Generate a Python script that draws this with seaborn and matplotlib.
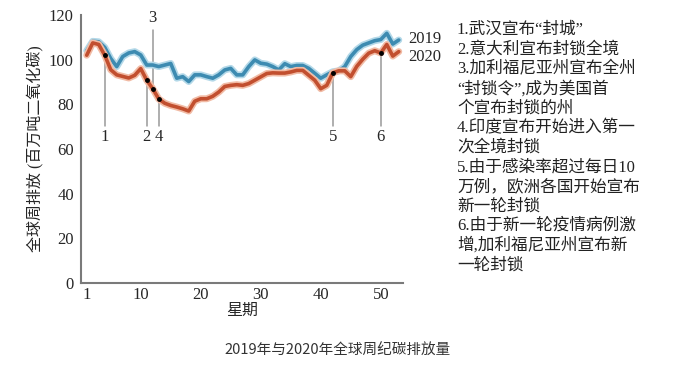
import pandas as pd
import seaborn as sns
import matplotlib.pyplot as plt
import matplotlib.patheffects as pe

weeks = list(range(1, 54))

# weekly emissions (million tonnes CO2)
co2_2019 = [104.0, 108.2, 108.0, 105.5, 100.5, 96.9, 101.4, 103.0, 103.6, 102.1,
            97.6, 97.6, 96.9, 97.6, 98.3, 91.7, 92.4, 90.2, 93.2, 93.2,
            92.4, 91.7, 93.2, 95.4, 96.1, 93.2, 93.2, 96.9, 99.9, 98.4,
            98.0, 96.9, 95.4, 98.2, 96.9, 97.4, 97.4, 96.1, 93.9, 91.7,
            93.2, 94.6, 95.0, 96.9, 101.4, 104.5, 106.5, 107.5, 108.5, 109.0,
            111.8, 107.0, 108.8]
co2_2020 = [102.0, 107.5, 106.8, 102.0, 95.5, 93.2, 92.5, 91.8, 93.0, 96.0,
            90.8, 87.0, 82.4, 80.5, 79.5, 78.8, 78.0, 77.0, 81.4, 82.5,
            82.5, 83.6, 85.5, 88.0, 88.5, 88.8, 88.5, 89.3, 90.8, 92.3,
            93.8, 94.1, 94.0, 94.0, 94.5, 95.2, 95.2, 93.0, 90.8, 87.0,
            88.5, 94.1, 95.0, 95.0, 92.4, 97.0, 100.2, 102.9, 104.0, 103.0,
            106.8, 101.6, 103.6]

event_labels = ["1", "2", "3", "4", "5", "6"]
event_weeks = [4, 11, 12, 13, 42, 50]

notes = ["1.武汉宣布“封城”",
         "2.意大利宣布封锁全境",
         "3.加利福尼亚州宣布全州",
         "“封锁令”,成为美国首",
         "个宣布封锁的州",
         "4.印度宣布开始进入第一",
         "次全境封锁",
         "5.由于感染率超过每日10",
         "万例，欧洲各国开始宣布",
         "新一轮封锁",
         "6.由于新一轮疫情病例激",
         "增,加利福尼亚州宣布新",
         "一轮封锁"]

df = pd.DataFrame({
    "week": weeks * 2,
    "co2": co2_2019 + co2_2020,
    "year": ["2019"] * len(weeks) + ["2020"] * len(weeks),
})

sns.set_style("white")
plt.rcParams["font.family"] = ["Liberation Serif", "Noto Sans CJK SC"]

fig = plt.figure(figsize=(6.75, 3.71), dpi=100)
ax = fig.add_axes([0.1196, 0.237, 0.4774, 0.7226])

colors = {"2019": "#3d8bb1", "2020": "#c24f2f"}
halos = {"2019": "#b3d8e8", "2020": "#f1bba5"}

sns.lineplot(data=df, x="week", y="co2", hue="year", palette=colors,
             linewidth=2.6, legend=False, ax=ax)
for line, yr in zip(ax.get_lines(), ["2019", "2020"]):
    line.set_path_effects([pe.Stroke(linewidth=5, foreground=halos[yr]), pe.Normal()])
    line.set_solid_joinstyle("round")

# event markers on the 2020 line
for lab, wk in zip(event_labels, event_weeks):
    yv = co2_2020[wk - 1]
    if lab == "3":
        ax.plot([wk, wk], [yv, 113.5], color="#999999", lw=1.1, zorder=1)
        ax.text(wk, 115, lab, ha="center", va="bottom", fontsize=12)
    else:
        ax.plot([wk, wk], [70.5, yv], color="#999999", lw=1.1, zorder=1)
        ax.text(wk, 69, lab, ha="center", va="top", fontsize=12)
    ax.plot(wk, yv, "o", color="black", ms=2.5, zorder=5)

ax.text(54.5, co2_2019[-1] + 0.5, "2019", fontsize=12, va="center", ha="left")
ax.text(54.5, co2_2020[-1] - 2.5, "2020", fontsize=12, va="center", ha="left")

ax.set_xlim(0, 53.7)
ax.set_ylim(0, 120)
ax.set_xticks([1, 10, 20, 30, 40, 50])
ax.set_yticks([0, 20, 40, 60, 80, 100, 120])
ax.tick_params(axis="x", direction="in", length=3, width=1.2, color="#777777",
               labelsize=12, pad=3)
ax.tick_params(axis="y", direction="out", length=3, width=1.2, color="#777777",
               labelsize=12, pad=2)
ax.set_xlabel("星期", fontsize=11.5, labelpad=0)
ax.set_ylabel("全球周排放 (百万吨二氧化碳)", fontsize=11.5, labelpad=4)
sns.despine(ax=ax)
for s in ["left", "bottom"]:
    ax.spines[s].set_color("#7a7a7a")
    ax.spines[s].set_linewidth(1.5)

for i, t in enumerate(notes):
    fig.text(0.677, 1 - (30 + i * 19.6) / 371, t, fontsize=12, va="center",
             ha="left", color="#222222")

fig.text(0.5, 1 - 351 / 371, "2019年与2020年全球周纪碳排放量",
         family=["Noto Sans CJK SC", "DejaVu Sans"], fontsize=10.5,
         ha="center", va="center", color="#333333")

plt.savefig("out.png", dpi=100)
